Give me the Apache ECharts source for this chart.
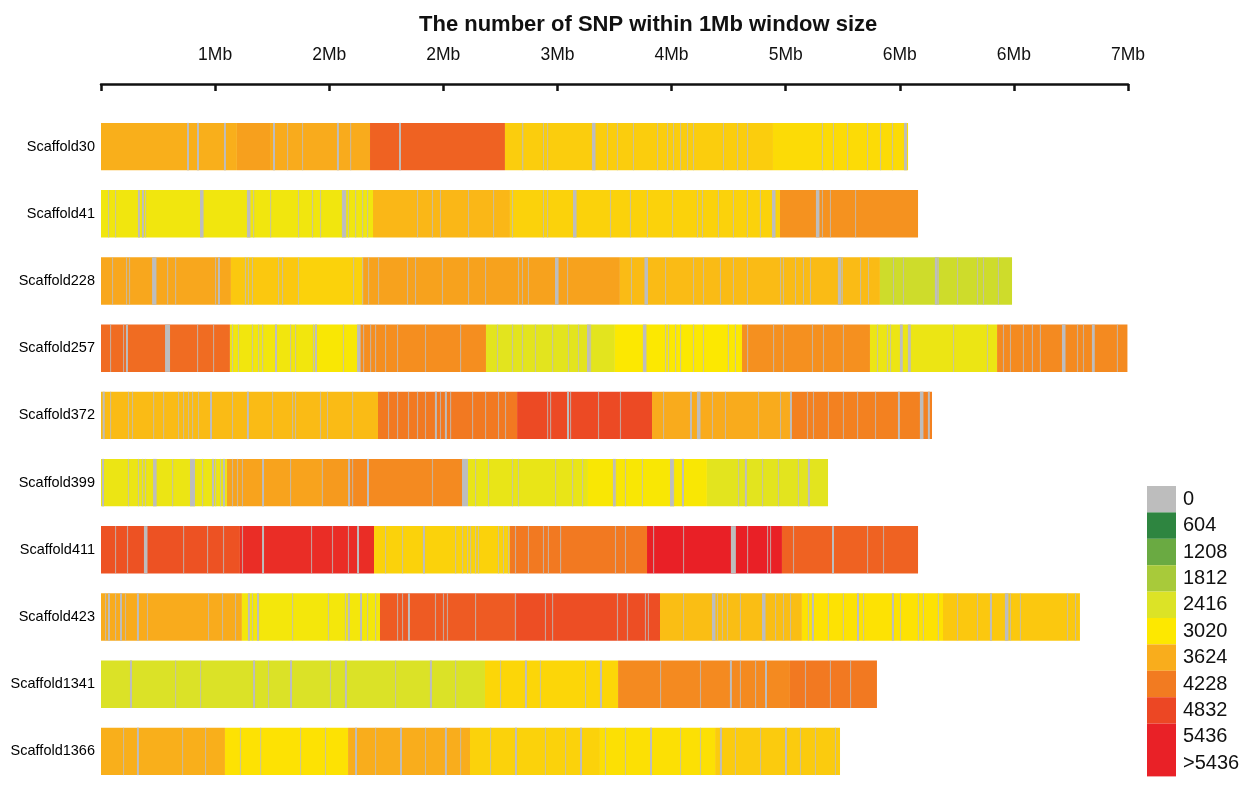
<!DOCTYPE html>
<html><head><meta charset="utf-8">
<script src="https://cdn.jsdelivr.net/npm/echarts@6/dist/echarts.min.js"></script>
<style>html,body{margin:0;padding:0;background:#fff}#c{width:1250px;height:785px}</style>
</head><body><div id="c"></div>
<script>
// ---- data ----
const scaffolds = ['Scaffold30','Scaffold41','Scaffold228','Scaffold257','Scaffold372','Scaffold399','Scaffold411','Scaffold423','Scaffold1341','Scaffold1366'];
const tickLabels = ['', '1Mb', '2Mb', '2Mb', '3Mb', '4Mb', '5Mb', '6Mb', '6Mb', '7Mb'];
const legendLabels = ['0','604','1208','1812','2416','3020','3624','4228','4832','5436','>5436'];
const legendBreaks = [0,604,1208,1812,2416,3020,3624,4228,4832,5436];
const legendColors = ['#bdbdbd','#2e8540','#6aaa42','#a8ca3a','#dce326','#fde800','#f9ad1c','#f27b21','#ec4724','#e92127','#e92127'];

// runs: [startMb, endMb, SNP count]; gaps: windows with 0 SNP [startMb, lengthMb]
const runs30 = [[0,0.953,3600],[0.953,1.185,3780],[1.185,1.886,3650],[1.886,2.832,4520],[2.832,4.711,3300],[4.711,5.658,3150]];
const gaps30 = [[0.603,0.014],[0.673,0.014],[0.862,0.014],[1.206,0.014],[1.304,0.008],[1.409,0.008],[1.654,0.014],[1.746,0.008],[2.089,0.014],[2.951,0.01],[3.098,0.008],[3.127,0.008],[3.442,0.025],[3.547,0.008],[3.617,0.008],[3.729,0.008],[3.898,0.008],[3.968,0.008],[4.010,0.008],[4.059,0.008],[4.108,0.008],[4.150,0.008],[4.360,0.008],[4.459,0.008],[4.529,0.008],[5.054,0.008],[5.131,0.008],[5.230,0.008],[5.370,0.008],[5.461,0.008],[5.545,0.008],[5.630,0.02]];

const runs41 = [[0,1.907,2800],[1.907,2.867,3520],[2.867,4.760,3250],[4.760,5.728,3950]];
const gaps41 = [[0.049,0.008],[0.098,0.008],[0.259,0.014],[0.287,0.014],[0.308,0.008],[0.694,0.025],[1.023,0.025],[1.066,0.008],[1.185,0.008],[1.381,0.008],[1.479,0.008],[1.535,0.008],[1.689,0.03],[1.731,0.008],[1.781,0.008],[1.830,0.008],[1.865,0.008],[2.215,0.008],[2.320,0.008],[2.376,0.008],[2.573,0.008],[2.748,0.008],[2.881,0.008],[3.098,0.008],[3.127,0.008],[3.309,0.025],[3.568,0.008],[3.708,0.008],[3.827,0.008],[4.003,0.008],[4.178,0.008],[4.213,0.008],[4.325,0.008],[4.430,0.008],[4.528,0.008],[4.619,0.008],[4.704,0.025],[5.012,0.025],[5.054,0.008],[5.110,0.008],[5.286,0.008]];

const runs228 = [[0,0.911,3700],[0.911,1.381,3350],[1.381,1.837,3250],[1.837,3.638,3760],[3.638,5.461,3480],[5.461,6.387,2250]];
const gaps228 = [[0.077,0.008],[0.175,0.008],[0.196,0.008],[0.358,0.03],[0.379,0.008],[0.463,0.008],[0.519,0.008],[0.799,0.008],[0.820,0.014],[1.009,0.008],[1.030,0.008],[1.058,0.008],[1.241,0.008],[1.269,0.008],[1.381,0.008],[1.767,0.008],[1.830,0.008],[1.872,0.008],[1.942,0.008],[2.145,0.008],[2.201,0.008],[2.390,0.008],[2.573,0.008],[2.692,0.008],[2.923,0.008],[2.951,0.008],[2.993,0.008],[3.183,0.025],[3.267,0.008],[3.715,0.008],[3.810,0.025],[3.954,0.008],[4.150,0.008],[4.220,0.008],[4.339,0.008],[4.430,0.008],[4.528,0.008],[4.760,0.008],[4.781,0.008],[4.865,0.008],[4.921,0.008],[4.970,0.008],[5.166,0.025],[5.194,0.008],[5.321,0.008],[5.377,0.008],[5.552,0.008],[5.622,0.008],[5.846,0.02],[5.867,0.008],[6.001,0.008],[6.141,0.008],[6.183,0.008],[6.288,0.008]];

const runs257 = [[0,0.904,4400],[0.904,1.500,2820],[1.500,1.816,2950],[1.816,2.699,4000],[2.699,3.603,2550],[3.603,4.494,3000],[4.494,5.391,3980],[5.391,6.282,2700],[6.282,7.196,4050]];
const gaps257 = [[0.063,0.008],[0.154,0.008],[0.175,0.014],[0.449,0.035],[0.673,0.008],[0.785,0.008],[0.918,0.008],[0.960,0.008],[1.058,0.008],[1.101,0.008],[1.129,0.008],[1.220,0.014],[1.325,0.008],[1.360,0.008],[1.486,0.008],[1.500,0.014],[1.696,0.008],[1.795,0.025],[1.837,0.008],[1.886,0.008],[1.921,0.008],[1.991,0.008],[2.075,0.008],[2.271,0.008],[2.517,0.008],[2.776,0.008],[2.881,0.008],[2.951,0.008],[3.042,0.008],[3.162,0.008],[3.274,0.008],[3.344,0.008],[3.407,0.02],[3.428,0.008],[3.799,0.025],[3.954,0.008],[3.975,0.008],[4.024,0.008],[4.059,0.008],[4.150,0.008],[4.220,0.008],[4.395,0.008],[4.444,0.008],[4.529,0.008],[4.711,0.008],[4.781,0.008],[4.984,0.008],[5.061,0.008],[5.201,0.008],[5.440,0.008],[5.510,0.008],[5.531,0.008],[5.601,0.02],[5.657,0.02],[5.973,0.008],[6.211,0.008],[6.323,0.008],[6.372,0.008],[6.463,0.008],[6.526,0.008],[6.582,0.008],[6.737,0.025],[6.842,0.008],[6.884,0.008],[6.947,0.02],[7.122,0.008]];

const runs372 = [[0,1.942,3480],[1.942,2.917,4250],[2.917,3.863,4800],[3.863,4.844,3650],[4.844,5.826,4150]];
const gaps372 = [[0.012,0.014],[0.063,0.008],[0.189,0.008],[0.217,0.008],[0.365,0.008],[0.435,0.008],[0.540,0.008],[0.575,0.008],[0.610,0.008],[0.638,0.008],[0.680,0.008],[0.764,0.014],[0.918,0.008],[1.023,0.014],[1.199,0.008],[1.339,0.008],[1.360,0.008],[1.535,0.008],[1.584,0.008],[1.760,0.008],[2.012,0.008],[2.075,0.008],[2.152,0.008],[2.215,0.008],[2.271,0.008],[2.341,0.014],[2.376,0.008],[2.411,0.014],[2.447,0.008],[2.601,0.008],[2.692,0.008],[2.783,0.008],[2.832,0.008],[3.127,0.008],[3.148,0.008],[3.267,0.014],[3.288,0.008],[3.484,0.008],[3.638,0.008],[3.940,0.008],[4.129,0.014],[4.178,0.025],[4.283,0.008],[4.374,0.008],[4.606,0.008],[4.760,0.008],[4.830,0.014],[4.949,0.008],[4.991,0.008],[5.096,0.008],[5.201,0.008],[5.300,0.008],[5.426,0.008],[5.587,0.014],[5.741,0.025],[5.797,0.014]];

const runs399 = [[0,0.883,2700],[0.883,1.549,3750],[1.549,1.732,3850],[1.732,2.531,4050],[2.573,3.414,2650],[3.414,4.248,2950],[4.248,5.097,2550]];
const gaps399 = [[0.007,0.014],[0.189,0.008],[0.259,0.008],[0.287,0.008],[0.308,0.008],[0.365,0.025],[0.498,0.008],[0.624,0.035],[0.708,0.008],[0.778,0.014],[0.799,0.008],[0.834,0.008],[0.855,0.014],[0.918,0.008],[0.953,0.008],[0.988,0.008],[1.129,0.014],[1.325,0.008],[1.549,0.008],[1.732,0.014],[1.760,0.008],[1.865,0.014],[2.320,0.008],[2.531,0.042],[2.622,0.008],[2.713,0.008],[2.881,0.008],[2.923,0.008],[3.183,0.008],[3.302,0.008],[3.372,0.008],[3.589,0.014],[3.603,0.008],[3.673,0.008],[3.792,0.008],[3.989,0.025],[4.010,0.008],[4.073,0.014],[4.466,0.008],[4.514,0.014],[4.634,0.008],[4.746,0.008],[4.886,0.008],[4.956,0.014]];

const runs411 = [[0,0.974,4700],[0.974,1.914,5250],[1.914,2.867,3250],[2.867,3.828,4250],[3.828,4.774,5550],[4.774,5.728,4520]];
const gaps411 = [[0.098,0.008],[0.182,0.008],[0.301,0.025],[0.575,0.008],[0.743,0.008],[0.855,0.008],[0.988,0.008],[1.129,0.014],[1.472,0.008],[1.619,0.008],[1.731,0.008],[1.795,0.014],[1.991,0.008],[2.110,0.008],[2.257,0.014],[2.482,0.008],[2.531,0.008],[2.566,0.008],[2.587,0.008],[2.622,0.008],[2.643,0.008],[2.783,0.008],[2.818,0.008],[2.853,0.008],[2.902,0.008],[2.993,0.008],[3.098,0.008],[3.133,0.008],[3.218,0.008],[3.603,0.008],[3.673,0.008],[3.870,0.008],[4.080,0.008],[4.416,0.035],[4.529,0.008],[4.669,0.008],[4.690,0.008],[4.851,0.008],[5.125,0.014],[5.370,0.008],[5.482,0.008]];

const runs423 = [[0,0.988,3650],[0.988,1.956,2850],[1.956,2.902,4600],[2.902,3.919,4750],[3.919,4.914,3450],[4.914,5.903,3080],[5.903,6.863,3350]];
const gaps423 = [[0.028,0.008],[0.049,0.014],[0.098,0.008],[0.133,0.014],[0.168,0.008],[0.252,0.014],[0.322,0.008],[0.750,0.008],[0.848,0.008],[0.939,0.008],[1.030,0.014],[1.058,0.008],[1.094,0.014],[1.339,0.008],[1.591,0.008],[1.710,0.008],[1.731,0.014],[1.816,0.014],[1.865,0.008],[1.921,0.008],[2.075,0.008],[2.110,0.008],[2.152,0.014],[2.341,0.008],[2.397,0.008],[2.425,0.008],[2.622,0.008],[2.902,0.008],[3.112,0.008],[3.162,0.008],[3.617,0.008],[3.687,0.008],[3.813,0.008],[3.834,0.008],[4.080,0.008],[4.283,0.025],[4.318,0.008],[4.353,0.008],[4.388,0.008],[4.479,0.008],[4.634,0.025],[4.725,0.008],[4.781,0.008],[4.830,0.008],[4.956,0.008],[4.984,0.014],[5.096,0.008],[5.201,0.008],[5.300,0.014],[5.342,0.008],[5.545,0.014],[5.601,0.008],[5.727,0.008],[5.762,0.008],[5.867,0.008],[6.001,0.008],[6.141,0.008],[6.232,0.014],[6.337,0.025],[6.372,0.008],[6.442,0.008],[6.772,0.008],[6.828,0.008]];

const runs1341 = [[0,2.692,2400],[2.692,3.625,3200],[3.625,4.830,4050],[4.830,5.440,4250]];
const gaps1341 = [[0.203,0.014],[0.519,0.008],[0.694,0.008],[1.066,0.014],[1.171,0.008],[1.325,0.014],[1.605,0.008],[1.710,0.014],[2.061,0.008],[2.306,0.014],[2.482,0.008],[2.797,0.008],[2.972,0.014],[3.077,0.008],[3.393,0.008],[3.498,0.014],[3.919,0.008],[4.199,0.008],[4.409,0.014],[4.479,0.008],[4.585,0.008],[4.655,0.014],[4.935,0.008],[5.110,0.008],[5.251,0.008]];

const runs1366 = [[0,0.869,3600],[0.869,1.732,3080],[1.732,2.587,3620],[2.587,3.498,3250],[3.498,4.305,3100],[4.305,5.181,3320]];
const gaps1366 = [[0.154,0.008],[0.252,0.014],[0.568,0.008],[0.729,0.008],[0.974,0.008],[1.115,0.008],[1.395,0.008],[1.570,0.008],[1.781,0.014],[1.921,0.008],[2.096,0.014],[2.271,0.008],[2.411,0.014],[2.517,0.008],[2.727,0.008],[2.902,0.014],[3.112,0.008],[3.253,0.008],[3.358,0.014],[3.533,0.008],[3.673,0.008],[3.849,0.014],[4.059,0.008],[4.199,0.008],[4.339,0.014],[4.444,0.008],[4.620,0.008],[4.795,0.014],[4.900,0.008],[5.005,0.008],[5.145,0.008]];

const allRuns = [runs30, runs41, runs228, runs257, runs372, runs399, runs411, runs423, runs1341, runs1366];
const allGaps = [gaps30, gaps41, gaps228, gaps257, gaps372, gaps399, gaps411, gaps423, gaps1341, gaps1366];

// ---- build ----
const cells = [];
allRuns.forEach((rs, i) => rs.forEach(r => cells.push([i, r[0], r[1], r[2]])));
allGaps.forEach((gs, i) => gs.forEach(g => cells.push([i, g[0], g[0] + g[1], 0])));

const stopColors = legendColors.slice(0, 10).concat(['#e81c24']);
const pieces = legendLabels.map((lab, k) => {
  if (k === 0) return { value: 0, label: lab, color: legendColors[k] };
  if (k < legendBreaks.length) return { min: legendBreaks[k - 1] + 1, max: legendBreaks[k], label: lab, color: legendColors[k] };
  return { min: legendBreaks[legendBreaks.length - 1] + 1, label: lab, color: legendColors[k] };
});

const chart = echarts.init(document.getElementById('c'));
const font = 'Liberation Sans, Arial, Helvetica, sans-serif';
chart.setOption({
  animation: false,
  backgroundColor: '#fff',
  title: {
    text: 'The number of SNP within 1Mb window size',
    left: 414, top: 9,
    textStyle: { fontSize: 22, fontWeight: 'bold', color: '#111', fontFamily: font }
  },
  grid: { left: 101, width: 1027, top: 113, height: 681 },
  xAxis: {
    type: 'value', position: 'top', offset: 29,
    min: 0, max: 7.2, interval: 0.8,
    axisLine: { show: true, lineStyle: { color: '#111', width: 2.5 } },
    axisTick: { show: true, inside: true, length: 7, lineStyle: { color: '#111', width: 2.5 } },
    axisLabel: { margin: 20, fontSize: 17.5, color: '#111', fontFamily: font,
      showMinLabel: true, showMaxLabel: true,
      formatter: v => tickLabels[Math.round(v / 0.8)] || '' },
    splitLine: { show: false }
  },
  yAxis: {
    type: 'category', inverse: true, data: scaffolds,
    axisLine: { show: false }, axisTick: { show: false }, splitLine: { show: false },
    axisLabel: { fontSize: 14.5, color: '#000', margin: 6, fontFamily: font }
  },
  visualMap: [
    { type: 'continuous', show: false, seriesIndex: 0, dimension: 3, min: 0, max: 6040,
      inRange: { color: stopColors } },
    { type: 'piecewise', seriesIndex: 1, orient: 'vertical', inverse: true,
      left: 1132, top: 471, itemWidth: 29, itemHeight: 26.4, itemGap: 0,
      itemSymbol: 'rect', textGap: 7, align: 'left', selectedMode: false, hoverLink: false,
      textStyle: { fontSize: 20, color: '#111', fontFamily: font },
      pieces: pieces }
  ],
  series: [
    {
      type: 'custom',
      encode: { x: [1, 2], y: 0 },
      data: cells,
      renderItem: function (params, api) {
        const row = api.value(0);
        const s = api.coord([api.value(1), row]);
        const e = api.coord([api.value(2), row]);
        const h = api.size([0, 1])[1] * 0.705;
        const w = e[0] - s[0];
        return {
          type: 'rect',
          shape: { x: s[0], y: s[1] - h / 2, width: Math.max(w, 1), height: h },
          style: { fill: api.visual('color'), opacity: (api.value(3) === 0 && w < 1.6) ? 0.75 : 1 }
        };
      }
    },
    { type: 'scatter', data: [], symbolSize: 0 }
  ]
});
</script>
</body></html>
